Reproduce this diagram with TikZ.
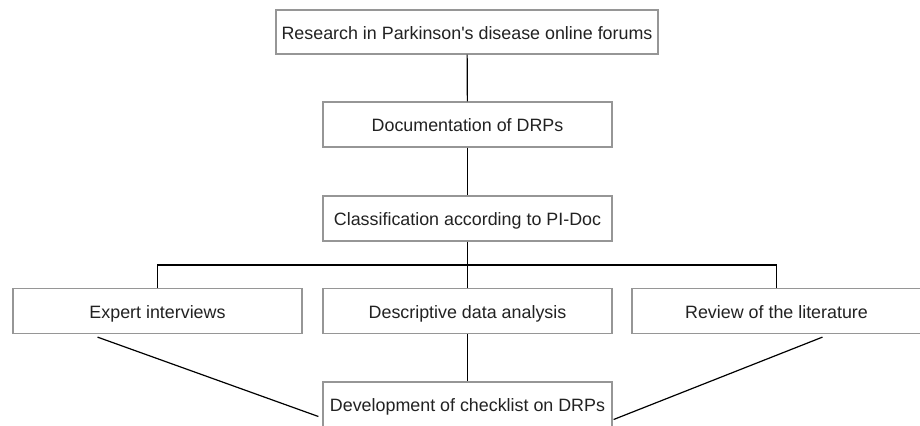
\documentclass[tikz,border=0pt]{standalone}
\usepackage{fontspec}
\setmainfont{Liberation Sans}
\usetikzlibrary{positioning,calc}
\definecolor{boxgray}{RGB}{150,150,150}
\definecolor{txtgray}{RGB}{34,34,34}
\tikzset{
  %% Process steps
  stepbox/.style={draw=boxgray, fill=white, line width=0.9pt,
    minimum width=216.75pt, minimum height=33.75pt, inner sep=0pt,
    text height=11pt, text depth=0.5pt,
    font=\fontsize{13.4}{16}\selectfont, text=txtgray, align=center},
  %% Connecting lines
  link/.style={draw=black, line width=0.9pt},
}

\begin{document}
\begin{tikzpicture}[x=0.75pt, y=-0.75pt]
\useasboundingbox (0,0) rectangle (920,425);

\node[stepbox, minimum width=286.5pt, minimum height=33pt] (pForums) at (467,32) {Research in Parkinson\textquotesingle s disease online forums};
\node[stepbox] (pDocu)    at (467.5,124.5) {Documentation of DRPs};
\node[stepbox] (pClass)   at (467.5,218.5) {Classification according to PI-Doc};
\node[stepbox] (pExpert)  at (157.5,311)   {Expert interviews};
\node[stepbox] (pDescr)   at (467.5,311)   {Descriptive data analysis};
\node[stepbox] (pReview)  at (776.5,311)   {Review of the literature};
\node[stepbox] (pCheck)   at (467.5,404.5) {Development of checklist on DRPs};

\coordinate (split) at (467.5,265);

\draw[link] (pForums) -- (pDocu);
\draw[link] (pDocu) -- (pClass);
\draw[link] (pClass) -- (split);
\draw[link] (pExpert.north) |- (split) -| (pReview.north);
\draw[link] (split) -- (pDescr);
\draw[link] (pDescr) -- (pCheck);

\draw[link] ($(pExpert.south)+(-60,3)$) -- ($(pCheck.west)+(-4,12)$);
\draw[link] ($(pReview.south)+(46,3)$) -- ($(pCheck.east)+(1,15)$);

\end{tikzpicture}
\end{document}
